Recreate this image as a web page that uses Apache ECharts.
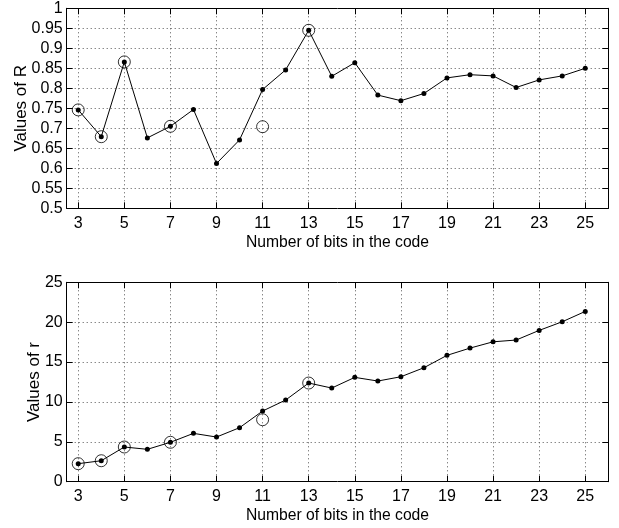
<!DOCTYPE html>
<html>
<head>
<meta charset="utf-8">
<script src="https://cdn.jsdelivr.net/npm/echarts@6/dist/echarts.min.js"></script>
<style>html,body{margin:0;padding:0;background:#fff}#c{width:619px;height:528px}</style>
</head>
<body>
<div id="c"></div>
<script>
// ---- data ----
const bits = [3,4,5,6,7,8,9,10,11,12,13,14,15,16,17,18,19,20,21,22,23,24,25];
const valuesR = [0.746,0.679,0.866,0.676,0.705,0.747,0.612,0.671,0.797,0.846,0.945,0.830,0.864,0.783,0.769,0.787,0.826,0.834,0.831,0.802,0.821,0.831,0.850];
const valuesSmallR = [2.26,2.63,4.35,4.06,4.94,6.06,5.60,6.77,8.86,10.24,12.37,11.74,13.08,12.62,13.16,14.29,15.84,16.75,17.54,17.76,18.97,20.05,21.35];
const circledBits = [3,4,5,7,11,13];
const circledR = [0.746,0.679,0.866,0.705,0.704,0.945];
const circledSmallR = [2.26,2.63,4.35,4.94,7.77,12.37];
const xTicks = [3,5,7,9,11,13,15,17,19,21,23,25];
const yTicksR = [0.5,0.55,0.6,0.65,0.7,0.75,0.8,0.85,0.9,0.95,1];
const yTicksSmallR = [0,5,10,15,20,25];
const xTitle = 'Number of bits in the code';
const yTitleTop = 'Values of R';
const yTitleBottom = 'Values of r';

const FONT = 'Liberation Sans';
const FS = 16;
const pairs = (xs, ys) => xs.map((x, i) => [x, ys[i]]);
const gridLine = {show: true, lineStyle: {color: '#555', type: [1, 3], width: 1}};
const axisLine = {show: true, onZero: false, lineStyle: {color: '#000', width: 1}};
const tick = (vals) => ({show: true, inside: true, length: 6, lineStyle: {color: '#000'}, customValues: vals});
const fmt = v => String(+(+v).toFixed(2));

function xAxes(gridIndex) {
  return [
    {type: 'value', gridIndex, min: 2.5, max: 26, position: 'bottom',
     name: xTitle, nameLocation: 'middle', nameGap: 26, nameMoveOverlap: false,
     nameTextStyle: {fontFamily: FONT, fontSize: 15.7, color: '#000'},
     axisLine, axisTick: tick(xTicks), splitLine: gridLine,
     axisLabel: {show: true, customValues: xTicks, margin: 7, fontFamily: FONT, fontSize: FS, color: '#000', formatter: fmt}},
    {type: 'value', gridIndex, min: 2.5, max: 26, position: 'top',
     axisLine, axisTick: tick(xTicks), splitLine: {show: false}, axisLabel: {show: false}}
  ];
}
function yAxes(gridIndex, ticks, name, nameGap) {
  const min = ticks[0], max = ticks[ticks.length - 1], interval = ticks[1] - ticks[0];
  return [
    {type: 'value', gridIndex, min, max, interval, position: 'left',
     name, nameLocation: 'middle', nameGap, nameMoveOverlap: false,
     nameTextStyle: {fontFamily: FONT, fontSize: 17, color: '#000'},
     axisLine, axisTick: tick(ticks), splitLine: gridLine,
     axisLabel: {show: true, margin: 4, fontFamily: FONT, fontSize: FS, color: '#000', formatter: fmt}},
    {type: 'value', gridIndex, min, max, interval, position: 'right',
     axisLine, axisTick: tick(ticks), splitLine: {show: false}, axisLabel: {show: false}}
  ];
}
function lineSeries(xi, yi, ys) {
  return {type: 'line', xAxisIndex: xi, yAxisIndex: yi, data: pairs(bits, ys),
    symbol: 'circle', symbolSize: 5, showSymbol: true, z: 3,
    lineStyle: {color: '#000', width: 1}, itemStyle: {color: '#000'}};
}
function circleSeries(xi, yi, ys) {
  return {type: 'scatter', xAxisIndex: xi, yAxisIndex: yi, data: pairs(circledBits, ys),
    symbol: 'circle', symbolSize: 12, z: 4,
    itemStyle: {color: 'rgba(0,0,0,0)', borderColor: '#000', borderWidth: 1}};
}

const chart = echarts.init(document.getElementById('c'), null, {renderer: 'canvas'});
chart.setOption({
  animation: false,
  backgroundColor: '#fff',
  grid: [
    {left: 66.7, right: 10.7, top: 8.3, height: 200},
    {left: 66.7, right: 10.7, top: 282.3, height: 199.4}
  ],
  xAxis: [...xAxes(0), ...xAxes(1)],
  yAxis: [...yAxes(0, yTicksR, yTitleTop, 37), ...yAxes(1, yTicksSmallR, yTitleBottom, 24)],
  series: [
    lineSeries(0, 0, valuesR),
    circleSeries(0, 0, circledR),
    lineSeries(2, 2, valuesSmallR),
    circleSeries(2, 2, circledSmallR)
  ]
});
</script>
</body>
</html>
